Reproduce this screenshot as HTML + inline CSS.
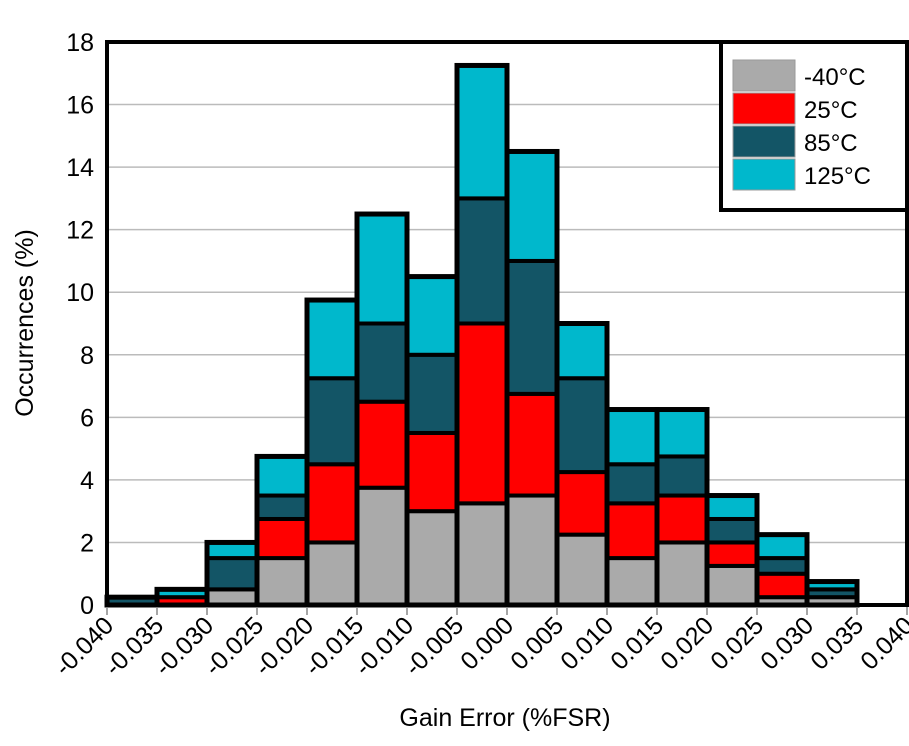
<!DOCTYPE html>
<html><head><meta charset="utf-8"><style>
body{margin:0;background:#fff;}
svg text{font-family:"Liberation Sans",Arial,sans-serif;fill:#000;}
</style></head><body>
<svg id="chart" width="909" height="741">
<g id="grid"></g><g id="bars"></g><g id="axes"></g><g id="legend"></g>
</svg>
<script>
const binStarts=[-0.040,-0.035,-0.030,-0.025,-0.020,-0.015,-0.010,-0.005,0.000,0.005,0.010,0.015,0.020,0.025,0.030,0.035];
const seriesNames=["-40°C","25°C","85°C","125°C"];
const gray=[0,0,0.5,1.5,2.0,3.75,3.0,3.25,3.5,2.25,1.5,2.0,1.25,0.25,0.25,0];
const red=[0,0.25,0,1.25,2.5,2.75,2.5,5.75,3.25,2.0,1.75,1.5,0.75,0.75,0,0];
const dark=[0.25,0,1.0,0.75,2.75,2.5,2.5,4.0,4.25,3.0,1.25,1.25,0.75,0.5,0.25,0];
const cyan=[0,0.25,0.5,1.25,2.5,3.5,2.5,4.25,3.5,1.75,1.75,1.5,0.75,0.75,0.25,0];
const yTicks=[0,2,4,6,8,10,12,14,16,18];
const xTicks=["-0.040","-0.035","-0.030","-0.025","-0.020","-0.015","-0.010","-0.005","0.000","0.005","0.010","0.015","0.020","0.025","0.030","0.035","0.040"];
const colors=["#aaaaaa","#ff0000","#135566","#00b8cc"];
const series=[gray,red,dark,cyan];
const X0=107,X1=907,Y0=605,Y1=42;
const xs=v=>X0+(v+0.040)/0.080*(X1-X0);
const ys=v=>Y0-v/18*(Y0-Y1);
const NS="http://www.w3.org/2000/svg";
function mk(tag,attrs,parent){const e=document.createElementNS(NS,tag);for(const k in attrs)e.setAttribute(k,attrs[k]);parent.appendChild(e);return e;}
const grid=document.getElementById('grid'),bars=document.getElementById('bars'),axes=document.getElementById('axes'),leg=document.getElementById('legend');
yTicks.forEach(t=>{
  if(t>0&&t<18){const l=mk('line',{x1:X0,x2:X1,y1:ys(t),y2:ys(t),stroke:'#bbb','stroke-width':1.5},grid);
  
  }
  const tx=mk('text',{x:94,y:ys(t)+9,'text-anchor':'end','font-size':25},axes);tx.textContent=t;
  
  
});
xTicks.forEach((s,i)=>{
  const v=-0.040+i*0.005,x=xs(v);
  mk('line',{x1:x,x2:x,y1:Y0,y2:Y0+10,stroke:'#888','stroke-width':1.5},axes);
  const tx=mk('text',{x:x+8,y:Y0+22,'text-anchor':'end','font-size':25,transform:`rotate(-45 ${x+8} ${Y0+22})`},axes);tx.textContent=s;
  
  
});
binStarts.forEach((b,i)=>{
  const xa=xs(b),xb=xs(b+0.005);let cum=0;
  series.forEach((arr,s)=>{
    const v=arr[i];if(v<=0)return;
    const r=mk('rect',{x:xa,y:ys(cum+v),width:xb-xa,height:ys(cum)-ys(cum+v),fill:colors[s],stroke:'#000','stroke-width':4},bars);
    
    
    cum+=v;
  });
  if(cum>0){const o=mk('rect',{x:xa,y:ys(cum),width:xb-xa,height:ys(0)-ys(cum),fill:'none',stroke:'#000','stroke-width':5},bars);
  
  }
});
const frame=mk('rect',{x:X0,y:Y1,width:X1-X0,height:Y0-Y1,fill:'none',stroke:'#000','stroke-width':4},axes);


const yt=mk('text',{x:33,y:323,'text-anchor':'middle','font-size':25,transform:'rotate(-90 33 323)'},axes);yt.textContent="Occurrences (%)";


const xt=mk('text',{x:505,y:726,'text-anchor':'middle','font-size':25},axes);xt.textContent="Gain Error (%FSR)";


const lb=mk('rect',{x:721,y:42,width:186,height:168,fill:'#fff',stroke:'#000','stroke-width':4},leg);


seriesNames.forEach((n,i)=>{
  const y=60+i*33;
  const sw=mk('rect',{x:733,y:y,width:62,height:31,fill:colors[i],stroke:'#999','stroke-width':1},leg);
  
  
  const t=mk('text',{x:804,y:y+25,'font-size':24},leg);t.textContent=n;
  
  
});
</script>
</body></html>
